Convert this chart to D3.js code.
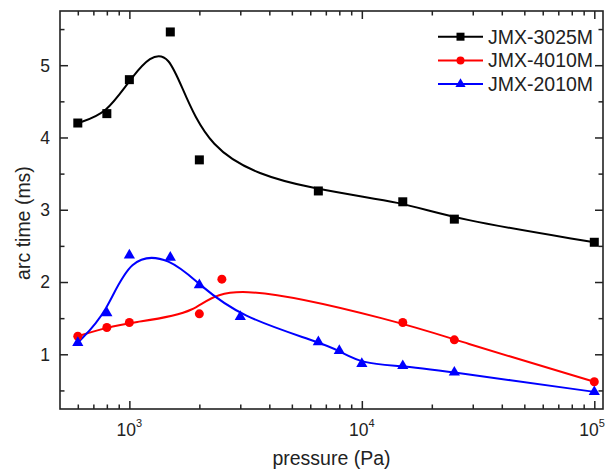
<!DOCTYPE html>
<html>
<head>
<meta charset="utf-8">
<script src="https://cdn.jsdelivr.net/npm/d3@7"></script>
<style>
  body { margin: 0; background: #fff; }
  svg { display: block; }
</style>
</head>
<body>
<svg id="chart" width="606" height="473"></svg>
<script>
// pressure (Pa) and arc time (ms)
const pressure3025 = [600, 800, 1000, 1500, 2000, 6500, 15000, 25000, 100000];
const arc3025 = [4.2, 4.33, 4.8, 5.46, 3.69, 3.26, 3.11, 2.87, 2.55];

const pressure4010 = [600, 800, 1000, 2000, 2500, 15000, 25000, 100000];
const arc4010 = [1.25, 1.37, 1.44, 1.56, 2.04, 1.44, 1.2, 0.62];

const pressure2010 = [600, 800, 1000, 1500, 2000, 3000, 6500, 8000, 10000, 15000, 25000, 100000];
const arc2010 = [1.16, 1.57, 2.37, 2.34, 1.96, 1.52, 1.17, 1.05, 0.87, 0.84, 0.75, 0.48];

const seriesNames = ["JMX-3025M", "JMX-4010M", "JMX-2010M"];
const xMajorTicks = [1e3, 1e4, 1e5];
const xTickExponents = ["3", "4", "5"];
const yMajorTicks = [1, 2, 3, 4, 5];
const yMinorTicks = [0.5, 1.5, 2.5, 3.5, 4.5, 5.5];

const width = 606;
const height = 473;
const margin = { top: 11, right: 3, bottom: 64, left: 60 };
const innerWidth = width - margin.left - margin.right;
const innerHeight = height - margin.top - margin.bottom;
const fontFamily = "Liberation Sans, Arial, sans-serif";
const textColor = "#222";

const series = [
  { name: seriesNames[0], color: "#000000", shape: "square",
    values: pressure3025.map((p, i) => ({ p, t: arc3025[i] })) },
  { name: seriesNames[1], color: "#ff0000", shape: "circle",
    values: pressure4010.map((p, i) => ({ p, t: arc4010[i] })) },
  { name: seriesNames[2], color: "#0000ff", shape: "triangle",
    values: pressure2010.map((p, i) => ({ p, t: arc2010[i] })) },
];

const svg = d3.select("#chart");

const xScale = d3.scaleLog().domain([503, 109000]).range([0, innerWidth]);
const yScale = d3.scaleLinear().domain([0.243, 5.75]).range([innerHeight, 0]);

const g = svg.append("g").attr("transform", `translate(${margin.left},${margin.top})`);

// minor x ticks (2..9 in each decade)
const xMinor = [];
[100, 1000, 10000].forEach((dec) => {
  for (let k = 2; k <= 9; k++) {
    const v = dec * k;
    if (v > xScale.domain()[0] && v < xScale.domain()[1]) xMinor.push(v);
  }
});

const tickStroke = "#222";

// ticks on all four sides, pointing inward
const xAxisBottom = d3.axisBottom(xScale).tickValues(xMajorTicks).tickSize(-8);
const xAxisBottomMinor = d3.axisBottom(xScale).tickValues(xMinor).tickSize(-4.5);
const xAxisTop = d3.axisTop(xScale).tickValues(xMajorTicks).tickSize(-8);
const xAxisTopMinor = d3.axisTop(xScale).tickValues(xMinor).tickSize(-4.5);

const yAxisLeft = d3.axisLeft(yScale).tickValues(yMajorTicks).tickSize(-8);
const yAxisLeftMinor = d3.axisLeft(yScale).tickValues(yMinorTicks).tickSize(-4.5);
const yAxisRight = d3.axisRight(yScale).tickValues(yMajorTicks).tickSize(-8);
const yAxisRightMinor = d3.axisRight(yScale).tickValues(yMinorTicks).tickSize(-4.5);

// only the tick marks are used from d3's axes, labels are drawn separately
const addAxis = (axis, transform) => {
  const a = g.append("g").attr("transform", transform).call(axis);
  a.select(".domain").remove();
  a.selectAll(".tick text").remove();
  a.selectAll(".tick line").attr("stroke", tickStroke).attr("stroke-width", 1.5);
  return a;
};

addAxis(xAxisBottom, `translate(0,${innerHeight})`);
addAxis(xAxisBottomMinor, `translate(0,${innerHeight})`);
addAxis(xAxisTop, "translate(0,0)");
addAxis(xAxisTopMinor, "translate(0,0)");
addAxis(yAxisLeft, "translate(0,0)");
addAxis(yAxisLeftMinor, "translate(0,0)");
addAxis(yAxisRight, `translate(${innerWidth},0)`);
addAxis(yAxisRightMinor, `translate(${innerWidth},0)`);

// frame
g.append("rect")
  .attr("width", innerWidth)
  .attr("height", innerHeight)
  .attr("fill", "none")
  .attr("stroke", tickStroke)
  .attr("stroke-width", 1.6);

// x tick labels 10^n (last one pulled in so it stays on the page)
const xLabels = g.selectAll(".x-tick-label")
  .data(xMajorTicks)
  .enter()
  .append("text")
  .attr("class", "x-tick-label")
  .attr("font-family", fontFamily)
  .attr("font-size", 17.5)
  .attr("fill", textColor)
  .attr("x", (d) => Math.min(xScale(d), innerWidth + margin.right - 14))
  .attr("y", innerHeight + 27)
  .attr("text-anchor", "middle");
xLabels.append("tspan").text("10");
xLabels.append("tspan")
  .attr("dy", -9)
  .attr("font-size", 11)
  .text((d, i) => xTickExponents[i]);

// y tick labels
g.selectAll(".y-tick-label")
  .data(yMajorTicks)
  .enter()
  .append("text")
  .attr("class", "y-tick-label")
  .attr("font-family", fontFamily)
  .attr("font-size", 17.5)
  .attr("fill", textColor)
  .attr("x", -10)
  .attr("y", (d) => yScale(d) + 6.3)
  .attr("text-anchor", "end")
  .text((d) => d);

// axis titles
g.append("text")
  .attr("font-family", fontFamily)
  .attr("font-size", 19.5)
  .attr("fill", textColor)
  .attr("x", innerWidth / 2)
  .attr("y", innerHeight + 56)
  .attr("text-anchor", "middle")
  .text("pressure (Pa)");

g.append("text")
  .attr("font-family", fontFamily)
  .attr("font-size", 19.5)
  .attr("fill", textColor)
  .attr("transform", "rotate(-90)")
  .attr("x", -212)
  .attr("y", -30)
  .attr("text-anchor", "middle")
  .text("arc time (ms)");

// clip for curves
svg.append("defs").append("clipPath").attr("id", "plot-clip")
  .append("rect").attr("width", innerWidth).attr("height", innerHeight);

// B-spline lines with the data points as control points (as in the original)
const lineGenerator = d3.line()
  .x((d) => xScale(d.p))
  .y((d) => yScale(d.t))
  .curve(d3.curveBasis);

const plot = g.append("g").attr("clip-path", "url(#plot-clip)");

plot.selectAll(".line-path")
  .data(series)
  .enter()
  .append("path")
  .attr("class", "line-path")
  .attr("d", (d) => lineGenerator(d.values))
  .attr("fill", "none")
  .attr("stroke", (d) => d.color)
  .attr("stroke-width", 2);

const symbolFor = (shape, size) => {
  if (shape === "square") return d3.symbol().type(d3.symbolSquare).size(size * size)();
  if (shape === "circle") return d3.symbol().type(d3.symbolCircle).size(Math.PI * (size / 2) * (size / 2))();
  return d3.symbol().type(d3.symbolTriangle).size(size * size * 0.45)();
};

series.forEach((s) => {
  g.selectAll(null)
    .data(s.values)
    .enter()
    .append("path")
    .attr("d", symbolFor(s.shape, s.shape === "triangle" ? 11 : 9))
    .attr("transform", (d) => `translate(${xScale(d.p)},${yScale(d.t)})`)
    .attr("fill", s.color);
});

// legend
const legend = g.append("g").attr("transform", "translate(378,25.7)");
const legendRows = legend.selectAll(".legend-row")
  .data(series)
  .enter()
  .append("g")
  .attr("class", "legend-row")
  .attr("transform", (d, i) => `translate(0,${i * 23.7})`);

legendRows.append("line")
  .attr("x1", 0)
  .attr("x2", 45)
  .attr("stroke", (d) => d.color)
  .attr("stroke-width", 2);

legendRows.append("path")
  .attr("d", (d) => symbolFor(d.shape, d.shape === "triangle" ? 10 : 8))
  .attr("transform", "translate(22.5,0)")
  .attr("fill", (d) => d.color);

legendRows.append("text")
  .attr("font-family", fontFamily)
  .attr("font-size", 19.5)
  .attr("fill", textColor)
  .attr("x", 50)
  .attr("y", 7)
  .text((d) => d.name);
</script>
</body>
</html>
